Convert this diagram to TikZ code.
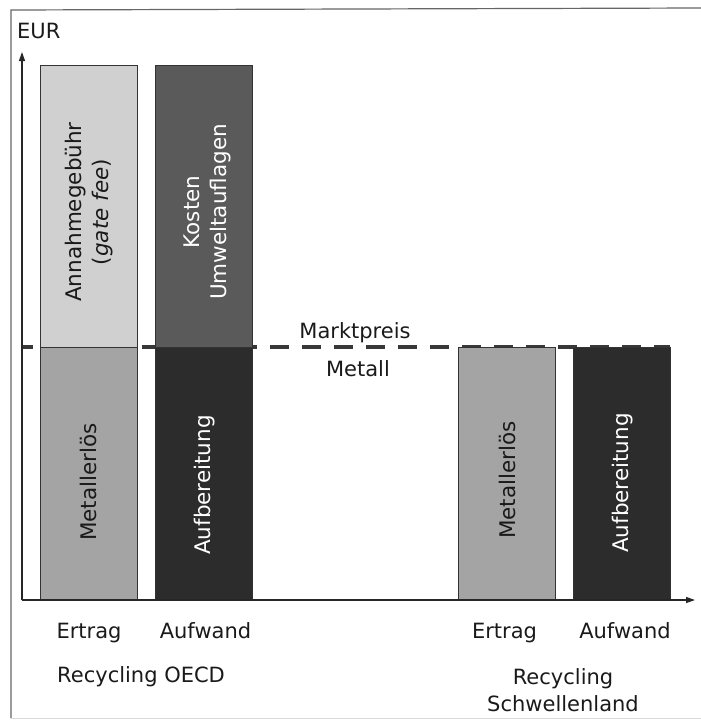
\documentclass[tikz,border=0pt]{standalone}
\usepackage{fontspec}
\setmainfont{DejaVu Sans}
\usetikzlibrary{arrows.meta}
\definecolor{barA}{HTML}{D0D0D0}
\definecolor{barB}{HTML}{A4A4A4}
\definecolor{barC}{HTML}{5A5A5A}
\definecolor{barD}{HTML}{2C2C2C}
\definecolor{txt}{HTML}{1A1A1A}
\begin{document}
\begin{tikzpicture}[x=1pt,y=-1pt,
  bar/.style={draw=black!80,line width=0.8pt,inner sep=0pt,minimum width=97pt},
  vlab/.style={rotate=90,align=center,font=\fontsize{21.5}{27}\selectfont,inner sep=0pt},
  lab/.style={font=\fontsize{21}{27}\selectfont,text=txt,inner sep=0pt},
  axis/.style={line width=1.2pt,black!85,-{Triangle[length=9pt,width=6pt]}},
  market/.style={line width=3.2pt,black!78,dash pattern=on 19pt off 13pt,dash phase=8pt}]
\useasboundingbox (0,0) rectangle (701,723);
% frame
\draw[black!60,line width=1.2pt] (11,718) -- (11,10) -- (701,8);
\draw[black!15,line width=0.8pt] (11,718) -- (701,718);
% dashed market price line
\coordinate (d0) at (22,347);
\coordinate (d1) at (670,347);
\draw[market] (d0) -- (d1);
% bars
\node[bar,fill=barA,minimum height=282pt] (b1t) at (88.5,206) {};
\node[bar,fill=barB,minimum height=253pt] (b1b) at (88.5,473.5) {};
\node[bar,fill=barC,minimum height=282pt] (b2t) at (203.5,206) {};
\node[bar,fill=barD,minimum height=253pt] (b2b) at (203.5,473.5) {};
\node[bar,fill=barB,minimum height=253pt] (b3) at (506.5,473.5) {};
\node[bar,fill=barD,minimum height=253pt] (b4) at (621.5,473.5) {};
% labels in bars
\node[vlab,text=txt] (t1t) at (89,212) {Annahmegebühr\\(\textit{gate fee})};
\node[vlab,text=white] (t2t) at (207,212) {Kosten\\Umweltauflagen};
\node[vlab,text=txt] (t1b) at (88.5,482) {Metallerlös};
\node[vlab,text=white] (t2b) at (205,485) {Aufbereitung};
\node[vlab,text=txt] (t3) at (507,480) {Metallerlös};
\node[vlab,text=white] (t4) at (623,483) {Aufbereitung};
% axes
\coordinate (o) at (22,600);
\coordinate (ytip) at (22,52);
\coordinate (xtip) at (695,600);
\draw[axis] (o) -- (ytip);
\draw[axis] (o) -- (xtip);
% texts
\node[lab,anchor=base west] (eur) at (17,38) {EUR};
\node[lab,anchor=base] (mp) at (355,338) {Marktpreis};
\node[lab,anchor=base] (mt) at (358,376) {Metall};
\node[lab,anchor=base] (e1) at (89,638) {Ertrag};
\node[lab,anchor=base] (a1) at (205.5,638) {Aufwand};
\node[lab,anchor=base] (e2) at (504.5,638) {Ertrag};
\node[lab,anchor=base] (a2) at (625,638) {Aufwand};
\node[lab,anchor=base west] (r1) at (57,682) {Recycling OECD};
\node[lab,anchor=base] (r2a) at (563,684) {Recycling};
\node[lab,anchor=base] (r2b) at (563,711) {Schwellenland};
\end{tikzpicture}
\end{document}
